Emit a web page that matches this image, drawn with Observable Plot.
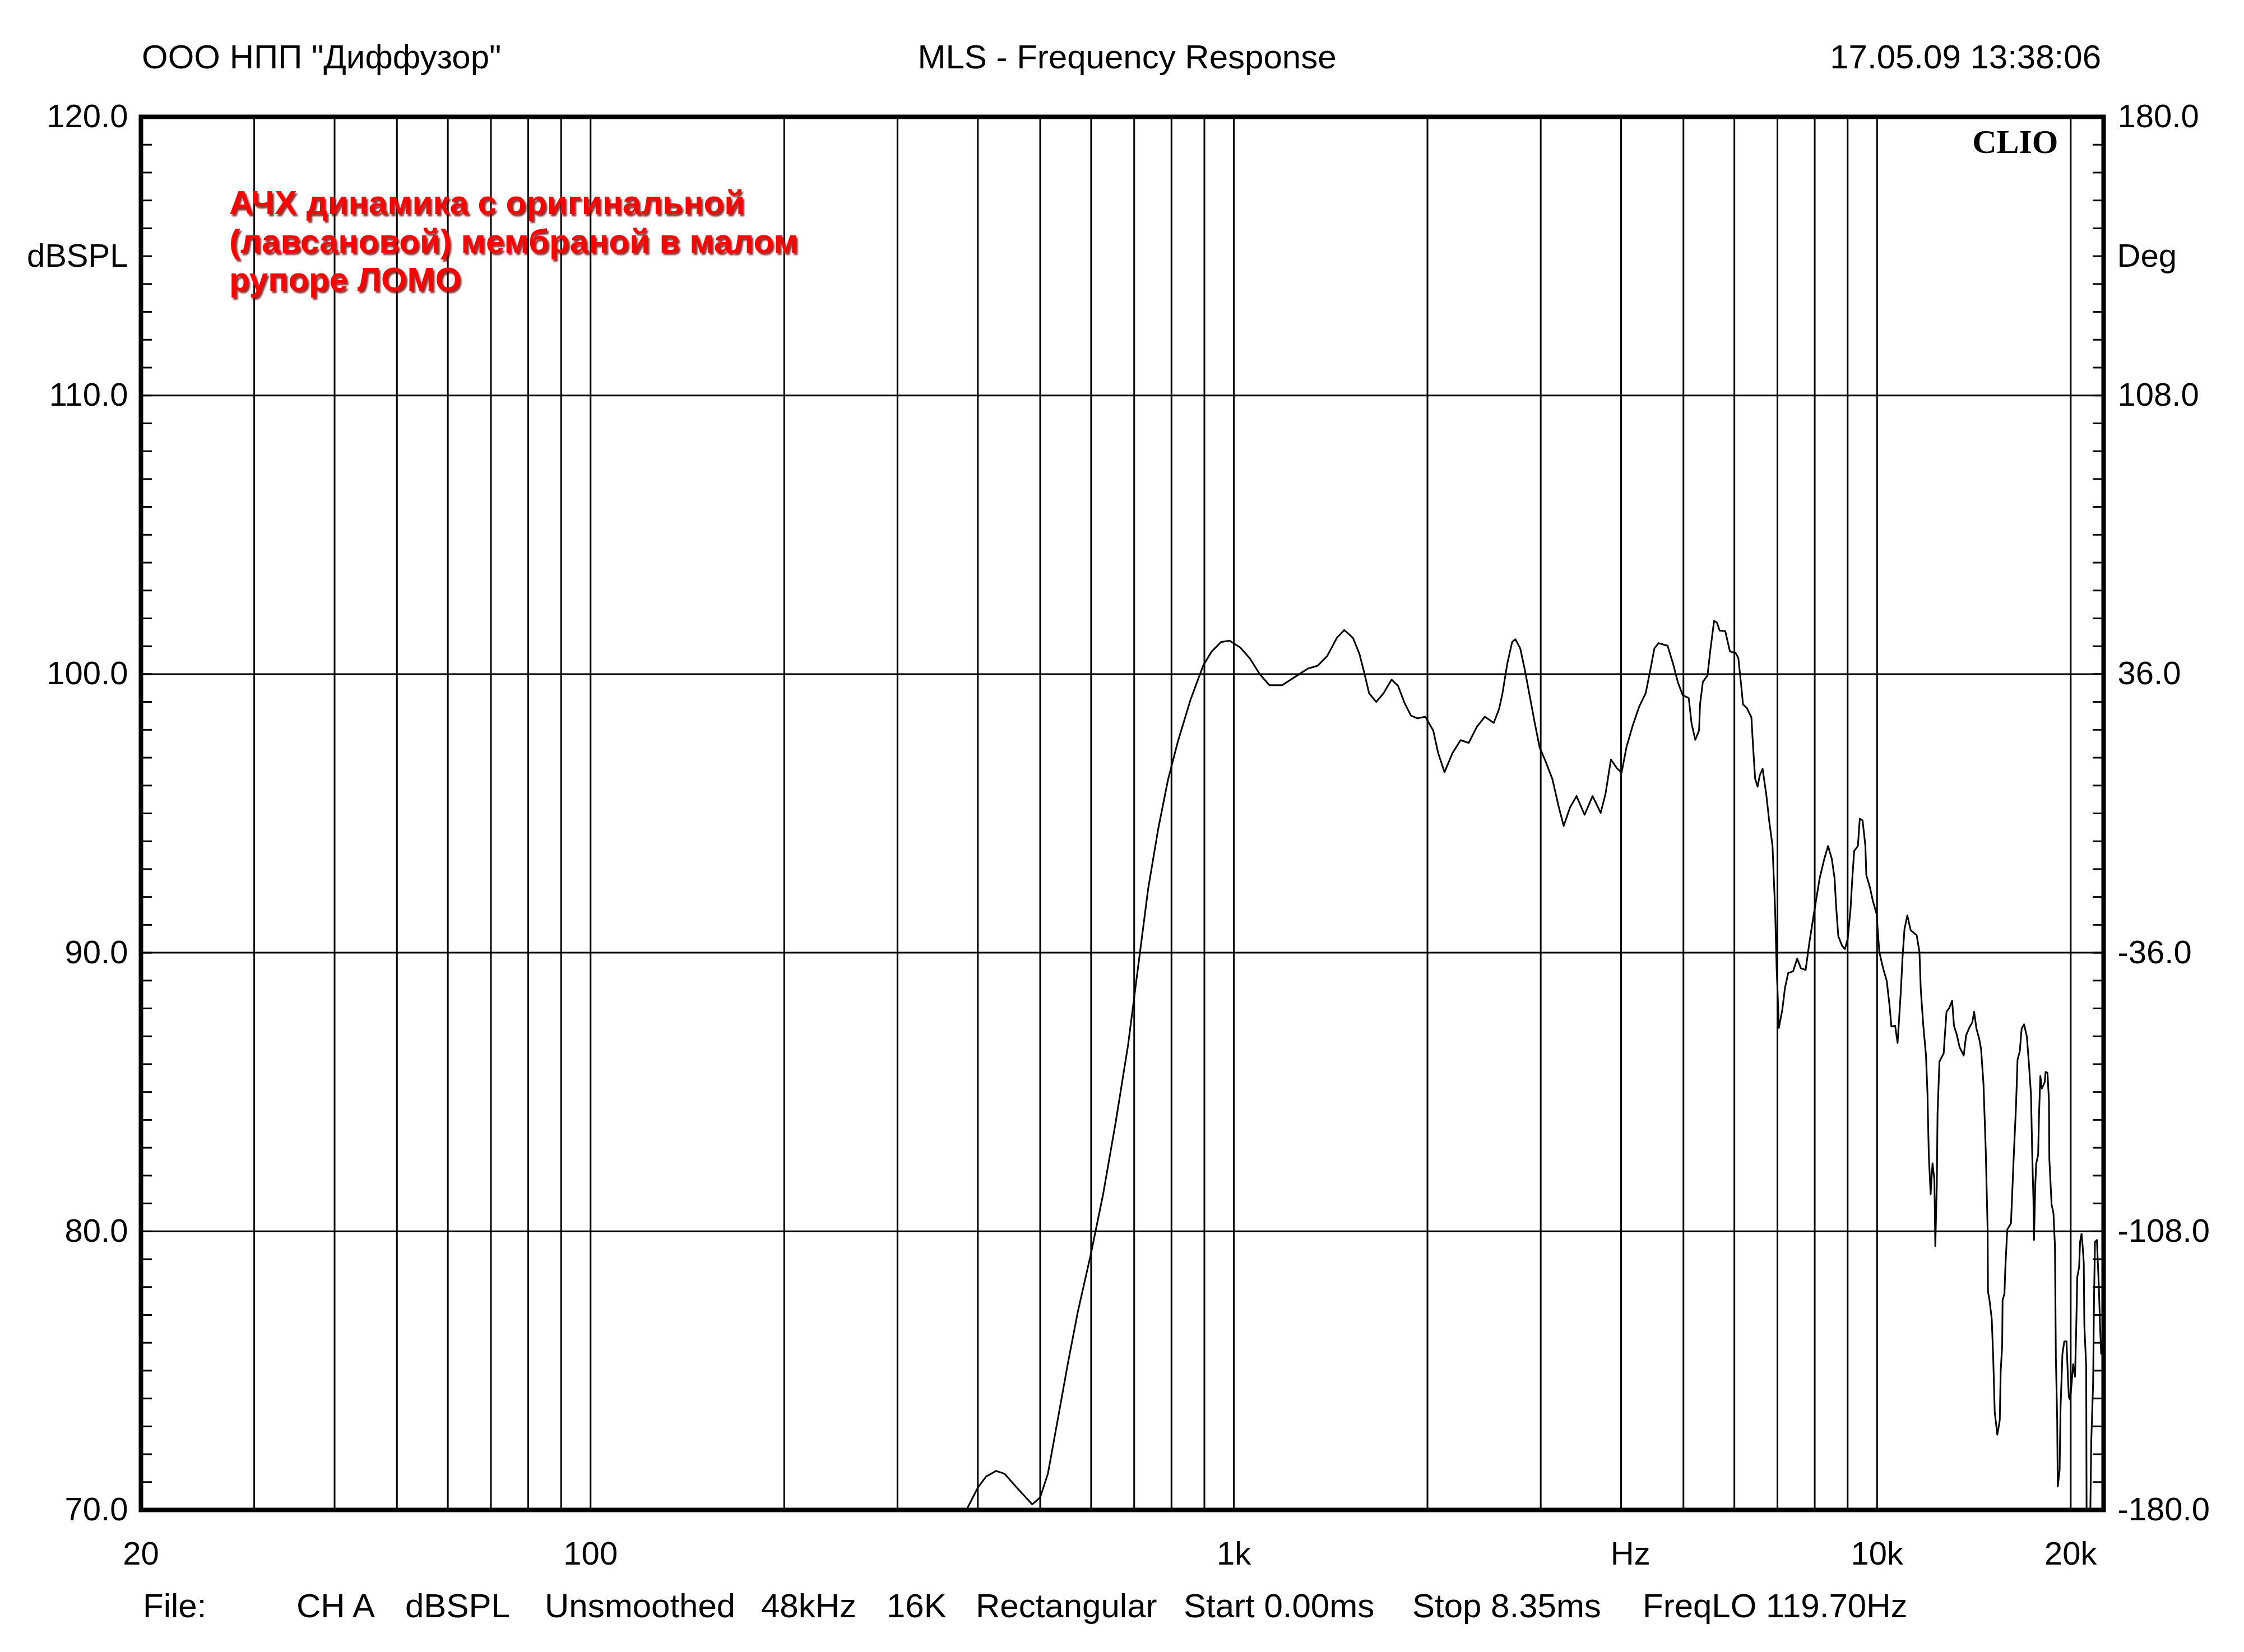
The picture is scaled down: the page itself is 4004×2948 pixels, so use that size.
<!DOCTYPE html>
<html><head><meta charset="utf-8">
<script src="https://cdn.jsdelivr.net/npm/d3@7"></script>
<script src="https://cdn.jsdelivr.net/npm/@observablehq/plot@0.6"></script>
<style>
body{margin:0;background:#fff;}
#page{position:relative;width:4004px;height:2948px;font-family:"Liberation Sans",Arial,sans-serif;color:#000;overflow:hidden;}
#chart{position:absolute;left:0;top:0;}
.t{position:absolute;font-size:60px;line-height:60px;white-space:pre;}
.hdr{top:72px;}
.ftr{top:2836px;}
#note{position:absolute;left:409px;top:328px;font-family:"Liberation Sans",Arial,sans-serif;font-weight:bold;font-size:60px;line-height:68.5px;color:#ff0000;text-shadow:3px 4px 3px rgba(110,0,0,0.8);white-space:pre;}
</style></head>
<body>
<div id="page">
  <div id="chart"></div>
  <div class="t hdr" style="left:253px">ООО НПП "Диффузор"</div>
  <div class="t hdr" style="left:2011px;transform:translateX(-50%)">MLS - Frequency Response</div>
  <div class="t hdr" style="right:255px">17.05.09 13:38:06</div>
  <div id="note">АЧХ динамика с оригинальной
(лавсановой) мембраной в малом
рупоре ЛОМО</div>
  <div id="footer"></div>
</div>
<script>
// ---- data ----
const freq = [380,386,400,412,427,440,462,486,500,514,533,552,572,599,626,655,685,710,736,763,790,819,857,896,923,955,985,1024,1060,1097,1136,1189,1245,1304,1350,1397,1446,1485,1532,1568,1595,1623,1665,1709,1759,1800,1842,1885,1928,1985,2042,2078,2126,2188,2252,2318,2386,2456,2536,2586,2616,2662,2708,2740,2788,2836,2886,2937,2988,3057,3128,3201,3257,3333,3410,3510,3612,3718,3782,3857,3938,4007,4077,4172,4269,4368,4444,4506,4574,4724,4817,4901,4987,5096,5148,5217,5288,5306,5360,5450,5506,5580,5636,5693,5808,5906,6025,6086,6148,6189,6272,6377,6420,6463,6520,6572,6638,6727,6795,6878,6910,6943,6980,7003,7037,7122,7193,7276,7404,7513,7614,7743,7848,7954,8142,8279,8391,8504,8589,8635,8705,8822,8911,9000,9091,9152,9213,9337,9400,9494,9590,9622,9751,9850,9982,10080,10218,10352,10457,10527,10668,10762,10884,10958,11032,11143,11278,11522,11638,11693,11795,11914,11977,12034,12114,12195,12277,12318,12385,12417,12501,12694,12736,12822,12951,13082,13170,13302,13436,13636,13754,13893,14061,14155,14270,14414,14511,14638,14756,14855,14875,14955,15075,15156,15237,15380,15515,15567,15650,15672,15777,15830,15936,16150,16205,16314,16446,16534,16667,16780,16926,17097,17212,17351,17421,17502,17537,17620,17679,17798,17858,17942,18038,18220,18281,18404,18503,18528,18677,18802,18903,18966,19056,19094,19222,19287,19416,19547,19701,19806,19873,19962,20068,20176,20311,20405,20474,20612,20681,20791,20861,20958,21000,21141,21169,21250,21400,21456,21527,21671,21744,21817,21964,22111,22215,22304];
const spl = [69.5,70.1,70.8,71.2,71.4,71.3,70.75,70.2,70.45,71.3,73.3,75.25,77.1,79.15,81.3,83.9,86.7,89.5,92.3,94.45,96.2,97.6,99.1,100.3,100.8,101.15,101.2,100.95,100.55,100.0,99.6,99.6,99.9,100.2,100.3,100.65,101.3,101.58,101.3,100.72,100.05,99.31,99.0,99.31,99.8,99.58,98.97,98.51,98.41,98.47,97.97,97.17,96.48,97.17,97.63,97.53,98.1,98.47,98.25,98.77,99.31,100.38,101.15,101.25,100.92,100.12,99.18,98.24,97.37,96.83,96.23,95.22,94.55,95.22,95.62,94.95,95.62,95.02,95.69,96.93,96.63,96.46,97.37,98.17,98.84,99.31,100.18,100.92,101.11,101.02,100.38,99.71,99.24,99.14,98.22,97.64,97.98,98.91,99.72,99.95,100.87,101.91,101.85,101.56,101.54,100.81,100.76,100.58,99.6,98.91,98.79,98.45,97.29,96.25,95.96,96.37,96.6,95.67,94.75,93.83,92.67,91.52,89.44,88.63,87.3,87.94,88.75,89.27,89.33,89.79,89.44,89.38,90.36,91.23,92.67,93.37,93.83,93.37,92.67,91.69,90.59,90.25,90.13,90.48,91.52,92.67,93.65,93.83,94.81,94.75,93.83,92.79,92.33,91.86,91.4,90.03,89.44,88.99,88.1,87.35,87.38,86.76,88.55,89.88,90.85,91.34,90.81,90.63,90.03,88.69,87.43,86.31,84.97,82.74,81.33,82.44,81.85,79.47,81.7,84.23,86.09,86.39,86.91,87.88,88.02,88.28,87.38,87.06,86.61,86.31,87.03,87.28,87.5,87.88,87.28,86.91,86.54,85.27,82.89,80.06,77.83,77.53,76.86,75.45,73.52,72.7,73.22,75.0,75.9,77.53,77.76,78.72,80.06,80.29,81.11,82.74,84.53,86.16,86.46,87.28,87.43,86.98,86.09,84.9,82.89,81.11,79.69,81.7,82.44,82.74,84.23,85.57,85.12,85.35,85.72,85.69,84.68,82.59,80.96,80.66,79.47,75.45,73.22,70.84,71.43,73.67,75.6,76.05,76.05,74.71,74.04,73.96,74.56,75.23,74.78,76.64,78.35,78.72,79.62,79.91,79.54,78.87,76.64,75.15,70.0,68.5,68.5,70.0,72.47,74.56,77.68,79.62,79.69,78.13,76.64,75.6];

const gridFreqs = [30,40,50,60,70,80,90,100,200,300,400,500,600,700,800,900,1000,2000,3000,4000,5000,6000,7000,8000,9000,10000,20000];
const gridDb = [80,90,100,110];
const majorDb = [70,80,90,100,110,120];
const minorDb = d3.range(70,121,1);
const phaseLabels = ["-180.0","-108.0","-36.0","36.0","108.0","180.0"];
const xLabelFreqs = [20,100,1000,4136,10000,20000];
const xLabelTexts = ["20","100","1k","Hz","10k","20k"];
const yTitleLevel = [115];
const footerItems = ["File:","CH A","dBSPL","Unsmoothed","48kHz","16K","Rectangular","Start 0.00ms","Stop 8.35ms","FreqLO 119.70Hz"];
const footerLefts = [255,529,723,972,1358,1582,1741,2112,2520,2931];

const data = freq.map((f,i)=>({f, db: spl[i]}));

const chart = Plot.plot({
  width: 4004, height: 2948,
  marginLeft: 251, marginRight: 251, marginTop: 208, marginBottom: 254,
  style: {fontFamily: "Liberation Sans, Arial, sans-serif", fontSize: "58px", background: "white", color: "black", overflow: "visible"},
  x: {type: "log", domain: [20, 22500], label: null},
  y: {domain: [70, 120], label: null},
  marks: [
    Plot.ruleX(gridFreqs, {stroke: "black", strokeWidth: 3}),
    Plot.ruleY(gridDb, {stroke: "black", strokeWidth: 3}),
    Plot.line(data, {x: "f", y: "db", stroke: "black", strokeWidth: 3, clip: true}),
    Plot.axisY(minorDb, {anchor: "left", label: null, tickSize: -20, tickFormat: () => "", strokeWidth: 3}),
    Plot.axisY(minorDb, {anchor: "right", label: null, tickSize: -20, tickFormat: () => "", strokeWidth: 3}),
    Plot.axisY(majorDb, {anchor: "left", label: null, tickSize: 0, tickPadding: 23, tickFormat: d => d.toFixed(1), fontSize: 58}),
    Plot.axisY(majorDb, {anchor: "right", label: null, tickSize: 0, tickPadding: 25, tickFormat: d => phaseLabels[majorDb.indexOf(d)], fontSize: 58}),
    Plot.axisX(xLabelFreqs, {anchor: "bottom", label: null, tickSize: 0, tickPadding: 56, tickFormat: d => xLabelTexts[xLabelFreqs.indexOf(d)], fontSize: 58}),
    Plot.frame({stroke: "black", strokeWidth: 8}),
    Plot.text(yTitleLevel, {y: d => d, frameAnchor: "left", text: () => "dBSPL", textAnchor: "end", dx: -23, fontSize: 58}),
    Plot.text(yTitleLevel, {y: d => d, frameAnchor: "right", text: () => "Deg", textAnchor: "start", dx: 24, fontSize: 58}),
    Plot.text(["CLIO"], {frameAnchor: "top-right", dx: -81, dy: 64, lineAnchor: "bottom", textAnchor: "end", fontFamily: "Liberation Serif, Times New Roman, serif", fontWeight: "bold", fontSize: 60})
  ]
});
document.getElementById("chart").appendChild(chart);

const footer = document.getElementById("footer");
footerItems.forEach((s,i)=>{
  const d = document.createElement("div");
  d.className = "t ftr";
  d.style.left = footerLefts[i] + "px";
  d.textContent = s;
  footer.appendChild(d);
});
</script>
</body></html>
